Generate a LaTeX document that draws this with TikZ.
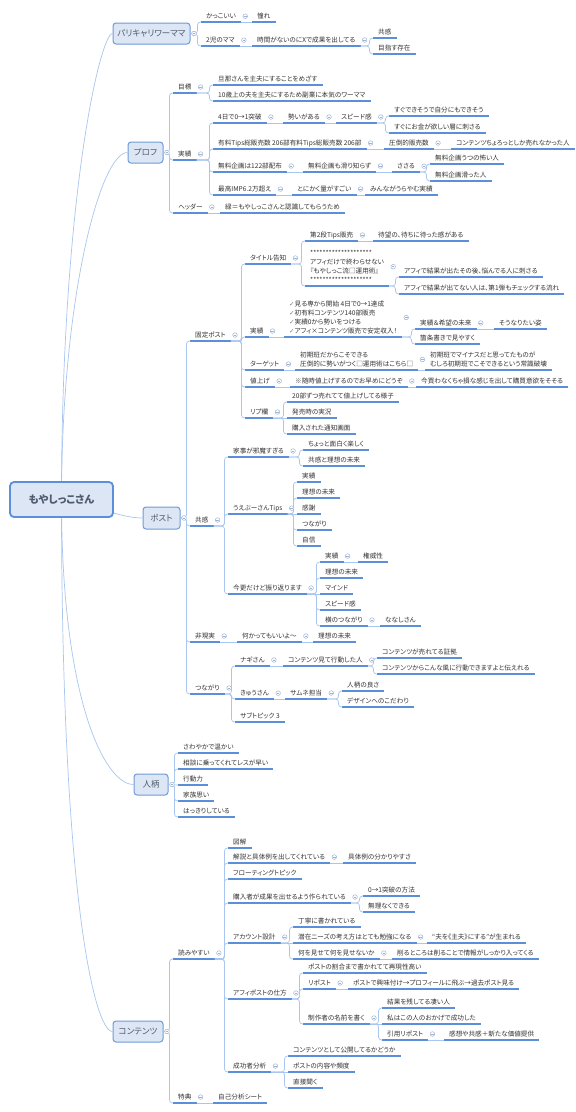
\documentclass[tikz,border=0pt]{standalone}
\usepackage{fontspec}
\setmainfont{Noto Sans CJK JP}[RawFeature={+palt}]
\newfontfamily\symf{DejaVu Sans}
\usetikzlibrary{calc}
\definecolor{ulc}{HTML}{5B8FD9}
\definecolor{connc}{HTML}{A9C6EE}
\definecolor{boxfill}{HTML}{DCE6F4}
\definecolor{boxdraw}{HTML}{6F9BD8}
\definecolor{boxtext}{HTML}{4F5B6E}
\definecolor{leaftext}{HTML}{333333}
\definecolor{colc}{HTML}{9DB3D3}
\newcommand\ck{{\symf\color{gray}✓}}
\tikzset{
  ul/.style={draw=ulc, line width=1.1pt},
  leaf/.style={anchor=south west, inner xsep=5pt, inner ysep=2.5pt, text depth=1pt,
    font=\fontsize{6.6}{9}\selectfont, text=leaftext, align=left,
    append after command={(\tikzlastnode.south west) edge[ul] (\tikzlastnode.south east)}},
  conn/.style={draw=connc, line width=0.7pt},
  mainbox/.style={draw=boxdraw, fill=boxfill, rounded corners=3pt, line width=1pt,
    font=\fontsize{8.5}{10}\selectfont, text=boxtext, inner sep=0pt},
  rootbox/.style={draw=ulc, fill=boxfill, rounded corners=4pt, line width=1.8pt,
    font=\fontsize{10.5}{12}\selectfont\bfseries, text=boxtext, inner sep=0pt,
    minimum width=103pt, minimum height=35pt},
  coll/.style={draw=colc, fill=white, line width=0.5pt},
}
\newcommand\lf[4]{\node[leaf] (#1) at (#2,#3) {#4};}
\newcommand\mb[6]{\node[mainbox, minimum width=#4pt, minimum height=#5pt] (#1) at (#2,#3) {#6};}
\newcommand\cn[2]{\draw[conn, rounded corners=3pt] (#1) -| ($(#2.south west)+(-3.5,0)$) -- (#2.south west);}
\newcommand\cs[2]{\draw[conn] (#1) -- (#2.south west);}
\newcommand\cl[1]{\draw[coll] ($(#1.east)+(4,0)$) circle[radius=2.3pt];
  \draw[draw=colc, line width=0.5pt] ($(#1.east)+(2.7,0)$) -- ($(#1.east)+(5.3,0)$);}
\newcommand\clb[1]{\draw[coll] ($(#1.east)+(3.5,0)$) circle[radius=2.3pt];
  \draw[draw=colc, line width=0.5pt] ($(#1.east)+(2.2,0)$) -- ($(#1.east)+(4.8,0)$);}
\begin{document}
\begin{tikzpicture}[x=1pt, y=-1pt]
\useasboundingbox (0,0) rectangle (576,1112);
\fill[white] (0,0) rectangle (576,1112);

% main topic boxes
\mb{pari}{151.5}{33.5}{77}{21}{パリキャリワーママ}
\mb{prof}{145.5}{152.5}{35}{21}{プロフ}
\mb{post}{161.5}{518}{37}{22}{ポスト}
\mb{hito}{151}{784.5}{34}{21}{人柄}
\mb{cont}{138}{1031.5}{50}{21}{コンテンツ}

\coordinate (rootc) at (61.5,499.5);
\draw[conn] (rootc) .. controls (61.5,200) and (100,34) .. (pari.west);
\draw[conn] (rootc) .. controls (61.5,300) and (100,152.5) .. (prof.west);
\draw[conn] (rootc) .. controls (95,505) and (120,518) .. (post.west);
\draw[conn] (rootc) .. controls (61.5,700) and (105,784.5) .. (hito.west);
\draw[conn] (rootc) .. controls (61.5,900) and (95,1031.5) .. (cont.west);
\node[rootbox] (root) at (rootc) {もやしっこさん};

% ---------- パリキャリワーママ
\lf{a1}{201}{22}{かっこいい}
\lf{a1a}{252}{22}{憧れ}
\lf{a2}{201}{46}{2児のママ}
\lf{a2a}{252}{46}{時間がないのにXで成果を出してる}
\lf{a2a1}{373}{38}{共感}
\lf{a2a2}{373}{54}{目指す存在}
\cn{pari.east}{a1} \cn{pari.east}{a2}
\cs{a1.south east}{a1a} \cs{a2.south east}{a2a}
\cn{a2a.south east}{a2a1} \cn{a2a.south east}{a2a2}

% ---------- プロフ
\lf{b1}{173}{93}{目標}
\lf{b1a}{213}{85}{旦那さんを主夫にすることをめざす}
\lf{b1b}{213}{101}{10歳上の夫を主夫にするため副業に本気のワーママ}
\lf{b2}{173}{160}{実績}
\lf{b2a}{213}{123}{4日で0→1突破}
\lf{b2a1}{283}{123}{勢いがある}
\lf{b2a2}{336}{123}{スピード感}
\lf{b2a3}{389}{116}{すぐできそうで自分にもできそう}
\lf{b2a4}{389}{133}{すぐにお金が欲しい層に刺さる}
\lf{b2b}{213}{149}{有料Tips総販売数 206部有料Tips総販売数 206部}
\lf{b2b1}{384}{149}{圧倒的販売数}
\lf{b2b2}{451}{149}{コンテンツちょろっとしか売れなかった人}
\lf{b2c}{213}{172}{無料企画は122部配布}
\lf{b2c1}{303}{172}{無料企画も滑り知らず}
\lf{b2c2}{392}{172}{ささる}
\lf{b2c3}{430}{164}{無料企画うつの怖い人}
\lf{b2c4}{430}{181}{無料企画滑った人}
\lf{b2d}{213}{195}{最高IMP6.2万超え}
\lf{b2d1}{292}{195}{とにかく量がすごい}
\lf{b2d2}{365}{195}{みんながうらやむ実績}
\lf{b3}{173}{213}{ヘッダー}
\lf{b3a}{220}{213}{緑＝もやしっこさんと認識してもらうため}
\cn{prof.east}{b1} \cn{prof.east}{b2} \cn{prof.east}{b3}
\cn{b1.south east}{b1a} \cn{b1.south east}{b1b}
\cn{b2.south east}{b2a} \cn{b2.south east}{b2b} \cn{b2.south east}{b2c} \cn{b2.south east}{b2d}
\cs{b2a.south east}{b2a1} \cs{b2a1.south east}{b2a2}
\cn{b2a2.south east}{b2a3} \cn{b2a2.south east}{b2a4}
\cs{b2b.south east}{b2b1} \cs{b2b1.south east}{b2b2}
\cs{b2c.south east}{b2c1} \cs{b2c1.south east}{b2c2}
\cn{b2c2.south east}{b2c3} \cn{b2c2.south east}{b2c4}
\cs{b2d.south east}{b2d1} \cs{b2d1.south east}{b2d2}
\cs{b3.south east}{b3a}

% ---------- ポスト
\lf{c1}{190}{341}{固定ポスト}
\lf{c1a}{245}{264}{タイトル告知}
\lf{c1a1}{305}{241}{第2段Tips販売}
\lf{c1a1a}{373}{241}{待望の、待ちに待った感がある}
\lf{c1a2}{305}{286}{********************\\アフィだけで終わらせない\\『もやしっこ流□運用術』\\********************}
\lf{c1a2a}{399}{277}{アフィで結果が出たその後、悩んでる人に刺さる}
\lf{c1a2b}{399}{294}{アフィで結果が出てない人は、第1弾もチェックする流れ}
\lf{c1b}{245}{337}{実績}
\lf{c1b1}{284}{337}{\ck 見る専から開始 4日で0→1達成\\\ck 初有料コンテンツ140部販売\\\ck 実績0から勢いをつける\\\ck アフィ×コンテンツ販売で安定収入！}
\lf{c1b1a}{415}{329}{実績＆希望の未来}
\lf{c1b1a1}{494}{329}{そうなりたい姿}
\lf{c1b1b}{415}{344}{箇条書きで見やすく}
\lf{c1c}{245}{370}{ターゲット}
\lf{c1c1}{295}{370}{初期班だからこそできる\\圧倒的に勢いがつく□運用術はこちら□}
\lf{c1c1a}{425}{370}{初期班でマイナスだと思ってたものが\\むしろ初期班でこそできるという常識破壊}
\lf{c1d}{245}{387}{値上げ}
\lf{c1d1}{290}{387}{※随時値上げするのでお早めにどうぞ}
\lf{c1d2}{416}{387}{今買わなくちゃ損な感じを出して購買意欲をそそる}
\lf{c1e}{245}{418}{リプ欄}
\lf{c1e1}{287}{402}{20部ずつ売れてて値上げしてる様子}
\lf{c1e2}{287}{418}{発売時の実況}
\lf{c1e3}{287}{434}{購入された通知画面}

\lf{c2}{190}{526}{共感}
\lf{c2a}{228}{457}{家事が邪魔すぎる}
\lf{c2a1}{303}{450}{ちょっと面白く楽しく}
\lf{c2a2}{303}{466}{共感と理想の未来}
\lf{c2b}{228}{514}{うえぶーさんTips}
\lf{c2b1}{297}{482}{実績}
\lf{c2b2}{297}{498}{理想の未来}
\lf{c2b3}{297}{514}{感謝}
\lf{c2b4}{297}{530}{つながり}
\lf{c2b5}{297}{546}{自信}
\lf{c2c}{228}{594}{今更だけど振り返ります}
\lf{c2c1}{320}{562}{実績}
\lf{c2c1a}{358}{562}{権威性}
\lf{c2c2}{320}{578}{理想の未来}
\lf{c2c3}{320}{594}{マインド}
\lf{c2c4}{320}{610}{スピード感}
\lf{c2c5}{320}{626}{横のつながり}
\lf{c2c5a}{380}{626}{ななしさん}

\lf{c3}{190}{642}{非現実}
\lf{c3a}{237}{642}{何かってもいいよ〜}
\lf{c3b}{313}{642}{理想の未来}

\lf{c4}{190}{694}{つながり}
\lf{c4a}{235}{666}{ナギさん}
\lf{c4a1}{283}{666}{コンテンツ見て行動した人}
\lf{c4a1a}{377}{658}{コンテンツが売れてる証拠}
\lf{c4a1b}{377}{674}{コンテンツからこんな風に行動できますよと伝えれる}
\lf{c4b}{235}{699}{きゅうさん}
\lf{c4b1}{285}{699}{サムネ担当}
\lf{c4b1a}{342}{691}{人柄の良さ}
\lf{c4b1b}{342}{707}{デザインへのこだわり}
\lf{c4c}{235}{722}{サブトピック 3}

\cn{post.east}{c1} \cn{post.east}{c2} \cn{post.east}{c3} \cn{post.east}{c4}
\cn{c1.south east}{c1a} \cn{c1.south east}{c1b} \cn{c1.south east}{c1c} \cn{c1.south east}{c1d} \cn{c1.south east}{c1e}
\cn{c1a.south east}{c1a1} \cn{c1a.south east}{c1a2}
\cs{c1a1.south east}{c1a1a}
\cn{c1a2.south east}{c1a2a} \cn{c1a2.south east}{c1a2b}
\cs{c1b.south east}{c1b1}
\cn{c1b1.south east}{c1b1a} \cn{c1b1.south east}{c1b1b}
\cs{c1b1a.south east}{c1b1a1}
\cs{c1c.south east}{c1c1} \cs{c1c1.south east}{c1c1a}
\cs{c1d.south east}{c1d1} \cs{c1d1.south east}{c1d2}
\cn{c1e.south east}{c1e1} \cs{c1e.south east}{c1e2} \cn{c1e.south east}{c1e3}
\cn{c2.south east}{c2a} \cn{c2.south east}{c2b} \cn{c2.south east}{c2c}
\cn{c2a.south east}{c2a1} \cn{c2a.south east}{c2a2}
\cn{c2b.south east}{c2b1} \cn{c2b.south east}{c2b2} \cs{c2b.south east}{c2b3} \cn{c2b.south east}{c2b4} \cn{c2b.south east}{c2b5}
\cn{c2c.south east}{c2c1} \cn{c2c.south east}{c2c2} \cs{c2c.south east}{c2c3} \cn{c2c.south east}{c2c4} \cn{c2c.south east}{c2c5}
\cs{c2c1.south east}{c2c1a} \cs{c2c5.south east}{c2c5a}
\cs{c3.south east}{c3a} \cs{c3a.south east}{c3b}
\cn{c4.south east}{c4a} \cn{c4.south east}{c4b} \cn{c4.south east}{c4c}
\cs{c4a.south east}{c4a1}
\cn{c4a1.south east}{c4a1a} \cn{c4a1.south east}{c4a1b}
\cs{c4b.south east}{c4b1}
\cn{c4b1.south east}{c4b1a} \cn{c4b1.south east}{c4b1b}

% ---------- 人柄
\lf{d1}{178}{753}{さわやかで温かい}
\lf{d2}{178}{769}{相談に乗ってくれてレスが早い}
\lf{d3}{178}{785}{行動力}
\lf{d4}{178}{801}{家族思い}
\lf{d5}{178}{817}{はっきりしている}
\cn{hito.east}{d1} \cn{hito.east}{d2} \cs{hito.east}{d3} \cn{hito.east}{d4} \cn{hito.east}{d5}

% ---------- コンテンツ
\lf{e1}{173}{959}{読みやすい}
\lf{e1a}{228}{848}{図解}
\lf{e1b}{228}{863}{解説と具体例を出してくれている}
\lf{e1b1}{343}{863}{具体例の分かりやすさ}
\lf{e1c}{228}{879}{フローティングトピック}
\lf{e1d}{228}{903}{購入者が成果を出せるよう作られている}
\lf{e1d1}{363}{896}{0→1突破の方法}
\lf{e1d2}{363}{912}{無理なくできる}
\lf{e1e}{228}{943}{アカウント設計}
\lf{e1e1}{293}{927}{丁寧に書かれている}
\lf{e1e2}{293}{943}{潜在ニーズの考え方はとても勉強になる}
\lf{e1e2a}{427}{943}{“夫を《主夫》にする”が生まれる}
\lf{e1e3}{293}{959}{何を見せて何を見せないか}
\lf{e1e3a}{392}{959}{削るところは削ることで情報がしっかり入ってくる}
\lf{e1f}{228}{999}{アフィポストの仕方}
\lf{e1f1}{303}{973}{ポストの割合まで書かれてて再現性高い}
\lf{e1f2}{303}{989}{リポスト}
\lf{e1f2a}{348}{989}{ポストで興味付け→プロフィールに飛ぶ→過去ポスト見る}
\lf{e1f3}{303}{1024}{制作者の名前を書く}
\lf{e1f3a}{382}{1008}{結果を残してる凄い人}
\lf{e1f3b}{382}{1024}{私はこの人のおかげで成功した}
\lf{e1f3c}{382}{1040}{引用リポスト}
\lf{e1f3c1}{444}{1040}{感想や共感＋新たな価値提供}
\lf{e1g}{228}{1072}{成功者分析}
\lf{e1g1}{288}{1056}{コンテンツとして公開してるかどうか}
\lf{e1g2}{288}{1072}{ポストの内容や頻度}
\lf{e1g3}{288}{1088}{直接聞く}
\lf{e2}{173}{1103}{特典}
\lf{e2a}{213}{1103}{自己分析シート}

\cn{cont.east}{e1} \cn{cont.east}{e2}
\cn{e1.south east}{e1a} \cn{e1.south east}{e1b} \cn{e1.south east}{e1c} \cn{e1.south east}{e1d}
\cn{e1.south east}{e1e} \cn{e1.south east}{e1f} \cn{e1.south east}{e1g}
\cs{e1b.south east}{e1b1}
\cn{e1d.south east}{e1d1} \cn{e1d.south east}{e1d2}
\cn{e1e.south east}{e1e1} \cs{e1e.south east}{e1e2} \cn{e1e.south east}{e1e3}
\cs{e1e2.south east}{e1e2a} \cs{e1e3.south east}{e1e3a}
\cn{e1f.south east}{e1f1} \cn{e1f.south east}{e1f2} \cn{e1f.south east}{e1f3}
\cs{e1f2.south east}{e1f2a}
\cn{e1f3.south east}{e1f3a} \cs{e1f3.south east}{e1f3b} \cn{e1f3.south east}{e1f3c}
\cs{e1f3c.south east}{e1f3c1}
\cn{e1g.south east}{e1g1} \cs{e1g.south east}{e1g2} \cn{e1g.south east}{e1g3}
\cs{e2.south east}{e2a}

% ---------- collapse markers
\clb{pari} \clb{prof} \clb{post} \clb{hito} \clb{cont}
\cl{a1} \cl{a2} \cl{a2a}
\cl{b1} \cl{b2} \cl{b3} \cl{b2a} \cl{b2a1} \cl{b2a2} \cl{b2b} \cl{b2b1} \cl{b2c} \cl{b2c1} \cl{b2c2} \cl{b2d} \cl{b2d1}
\cl{c1} \cl{c1a} \cl{c1a1} \cl{c1a2} \cl{c1b} \cl{c1b1} \cl{c1b1a} \cl{c1c} \cl{c1c1} \cl{c1d} \cl{c1d1} \cl{c1e}
\cl{c2} \cl{c2a} \cl{c2b} \cl{c2c} \cl{c2c1} \cl{c2c5}
\cl{c3} \cl{c3a}
\cl{c4} \cl{c4a} \cl{c4a1} \cl{c4b} \cl{c4b1}
\cl{e1} \cl{e2} \cl{e1b} \cl{e1d} \cl{e1e} \cl{e1e2} \cl{e1e3} \cl{e1f} \cl{e1f2} \cl{e1f3} \cl{e1f3c} \cl{e1g}
\end{tikzpicture}
\end{document}
